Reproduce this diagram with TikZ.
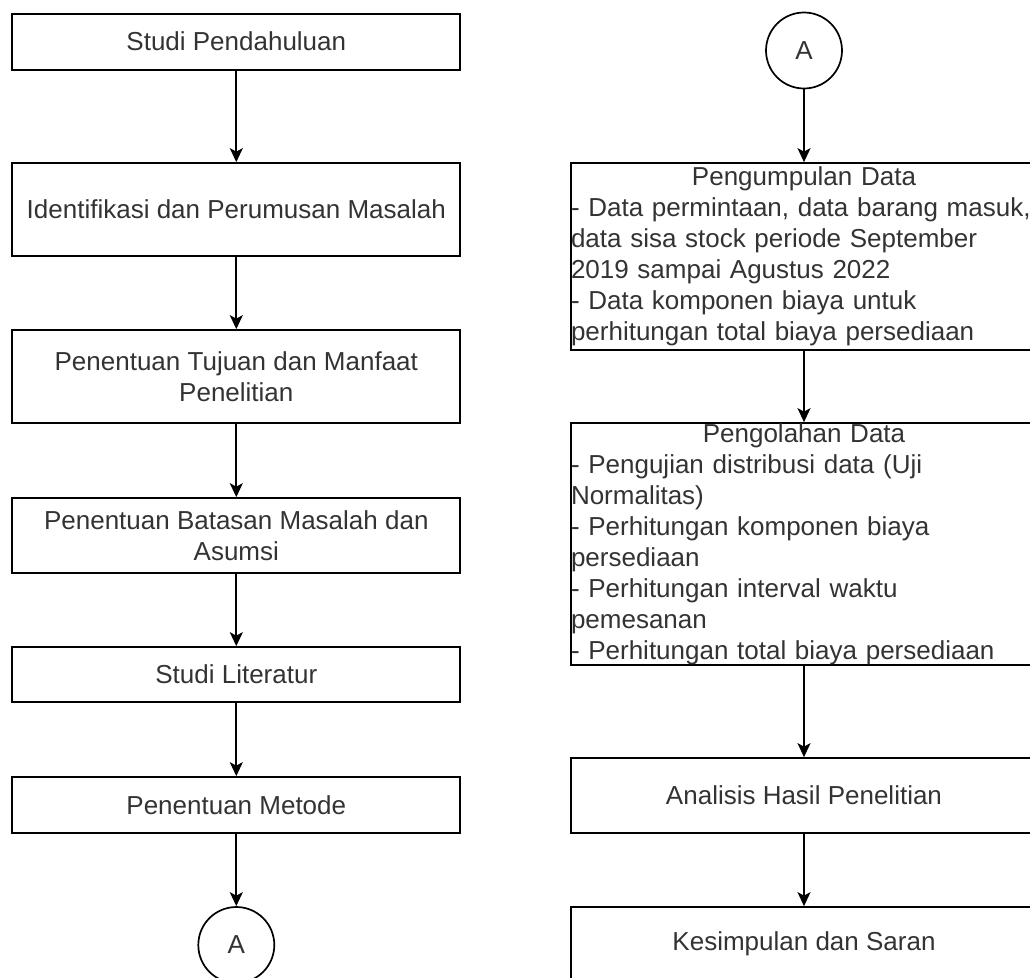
\documentclass[tikz,border=0pt]{standalone}
\usepackage{fontspec}
\setmainfont{Liberation Sans}
\usetikzlibrary{arrows.meta}
\begin{document}
\begin{tikzpicture}[x=1pt,y=-1pt,
  box/.style={draw=black, line width=1.7pt, rectangle, minimum width=448pt, inner sep=0pt,
    align=center, font=\fontsize{26}{31}\selectfont, text=black!80},
  widebox/.style={box, minimum width=466pt, text width=466pt, align=left},
  conn/.style={circle, draw=black, line width=1.7pt, minimum size=76pt, inner sep=0pt,
    font=\fontsize{26}{31}\selectfont, text=black!80},
  arr/.style={line width=1.7pt, -{Stealth[length=14pt,width=13pt,inset=3.5pt]}}]
\useasboundingbox (0,0) rectangle (1030,977);
\clip (0,0) rectangle (1030,977);
% left column
\node[box, minimum height=56pt] (s1) at (236.3,41.7) {Studi Pendahuluan};
\node[box, minimum height=93pt] (s2) at (236.3,209.5) {Identifikasi dan Perumusan Masalah};
\node[box, minimum height=93pt] (s3) at (236.3,376.5) {Penentuan Tujuan dan Manfaat\\Penelitian};
\node[box, minimum height=75pt] (s4) at (236.3,535.5) {Penentuan Batasan Masalah dan\\Asumsi};
\node[box, minimum height=55pt] (s5) at (236.3,674.5) {Studi Literatur};
\node[box, minimum height=56pt] (s6) at (236.3,805) {Penentuan Metode};
\node[conn] (a1) at (236.3,945) {A};
% right column
\node[conn] (a2) at (804,50.5) {A};
\node[widebox, minimum height=187pt] (r1) at (804,256.5) {\makebox[466pt]{Pengumpulan Data}\\- Data permintaan, data barang masuk,\\data sisa stock periode September\\2019 sampai Agustus 2022\\- Data komponen biaya untuk\\perhitungan total biaya persediaan};
\node[widebox, minimum height=242pt] (r2) at (804,544) {\makebox[466pt]{Pengolahan Data}\\- Pengujian distribusi data (Uji\\Normalitas)\\- Perhitungan komponen biaya\\persediaan\\- Perhitungan interval waktu\\pemesanan\\- Perhitungan total biaya persediaan};
\node[box, minimum width=466pt, minimum height=75pt] (r3) at (804,795.5) {Analisis Hasil Penelitian};
\node[box, minimum width=466pt, minimum height=74pt] (r4) at (804,944) {Kesimpulan dan Saran};
% connectors
\draw[arr] (s1) -- (s2);
\draw[arr] (s2) -- (s3);
\draw[arr] (s3) -- (s4);
\draw[arr] (s4) -- (s5);
\draw[arr] (s5) -- (s6);
\draw[arr] (s6) -- (a1);
\draw[arr] (a2) -- (r1);
\draw[arr] (r1) -- (r2);
\draw[arr] (r2) -- (r3);
\draw[arr] (r3) -- (r4);
\end{tikzpicture}
\end{document}
